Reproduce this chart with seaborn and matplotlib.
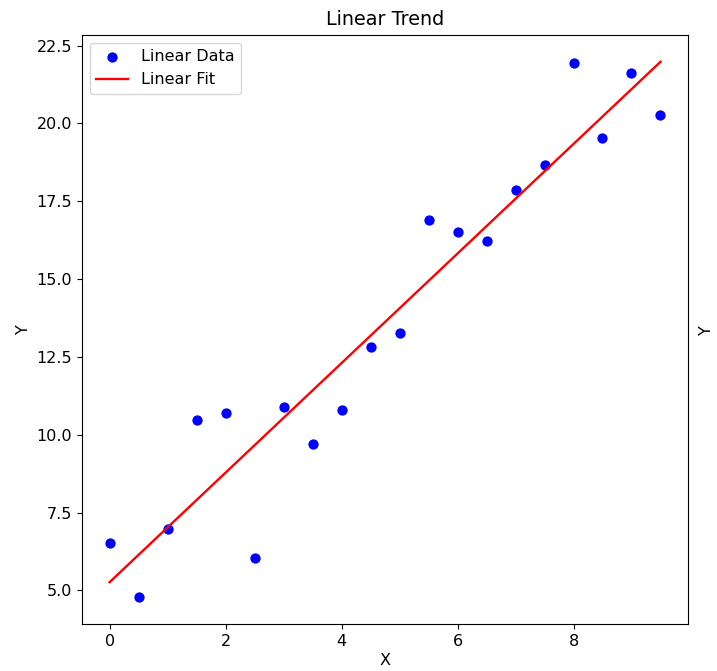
import numpy as np
import pandas as pd
import matplotlib
matplotlib.use("Agg")
import matplotlib.pyplot as plt
import seaborn as sns

# values
x_vals = [0.0, 0.5, 1.0, 1.5, 2.0, 2.5, 3.0, 3.5, 4.0, 4.5,
          5.0, 5.5, 6.0, 6.5, 7.0, 7.5, 8.0, 8.5, 9.0, 9.5]
y_vals = [6.51, 4.78, 6.96, 10.47, 10.69, 6.03, 10.88, 9.69, 10.79, 12.81,
          13.26, 16.90, 16.51, 16.22, 17.86, 18.67, 21.95, 19.53, 21.62, 20.27]

df = pd.DataFrame({"X": x_vals, "Y": y_vals})

# least squares fit of the data
slope, intercept = np.polyfit(df.X, df.Y, 1)
df["fit"] = intercept + slope * df.X

fig = plt.figure(figsize=(7.17, 6.71), dpi=100)
ax = fig.add_axes([0.1144, 0.0700, 0.8452, 0.8778])

sns.scatterplot(data=df, x="X", y="Y", color="blue", s=55, linewidth=0,
                label="Linear Data", ax=ax)
sns.lineplot(data=df, x="X", y="fit", color="red", linewidth=1.7,
             label="Linear Fit", ax=ax)

ax.set_title("Linear Trend", fontsize=13.8, pad=7)
ax.set_xlabel("X", fontsize=11.5, labelpad=3)
ax.set_ylabel("Y", fontsize=11.5)
ax.tick_params(labelsize=11.5)
ax.legend(loc="upper left", fontsize=11.5)

# y label of the neighbouring panel, cut off at the right edge
fig.text(0.986, 0.508, "Y", rotation=90, fontsize=11.5, va="center", ha="center")

fig.savefig("out.png", dpi=100)
